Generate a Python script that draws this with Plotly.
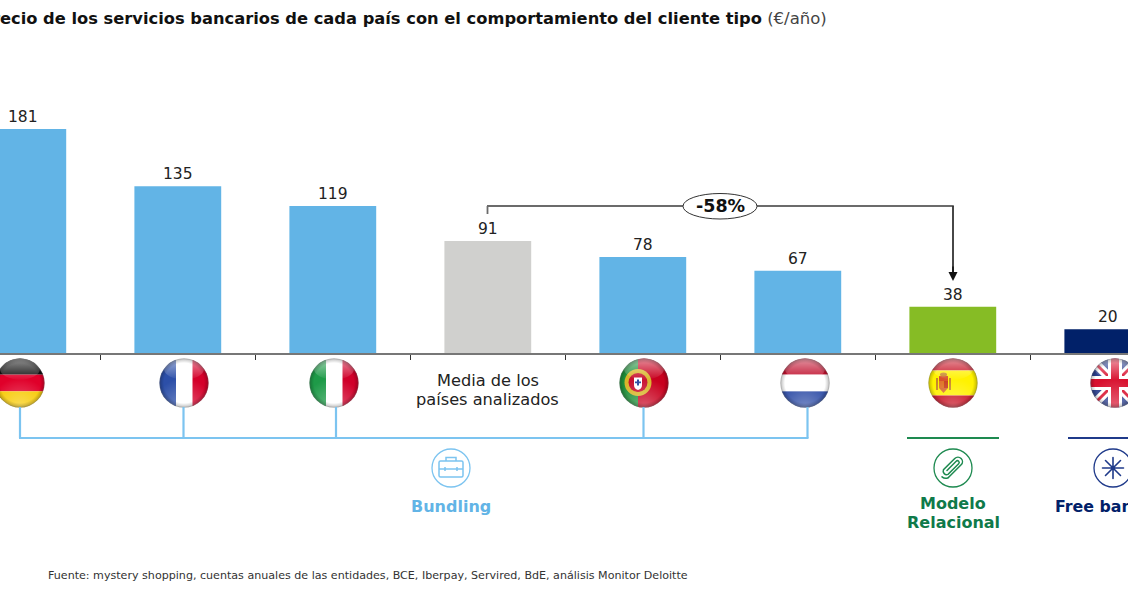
import base64
import numpy as np
import plotly.graph_objects as go

# ---- data ----
categories = ["Alemania", "Francia", "Italia", "Media de los países analizados",
              "Portugal", "Holanda", "España", "Reino Unido"]
values = [181, 135, 119, 91, 78, 67, 38, 20]
groups = ["bundling", "bundling", "bundling", "media", "bundling", "bundling", "relacional", "free"]

W, H = 1128, 591
GROUP_COLORS = {"bundling": "#62B4E6", "media": "#D0D0CE", "relacional": "#86BC25", "free": "#012169"}
BLUE_LINE, GREEN_LINE, NAVY_LINE = "#7CC4F0", "#1E8A50", "#1F3A8A"
FONT = "DejaVu Sans"


def X(px):
    return px / W


def Y(py):
    return 1 - py / H


SPACING = 155.0
X0 = 22.8
BASE = 354.0
PX_PER_UNIT = 1.243
x_range = [-X0 / SPACING, (W - X0) / SPACING]
y_range = [-(H - BASE) / PX_PER_UNIT, BASE / PX_PER_UNIT]
idx = np.arange(len(categories))

fig = go.Figure(go.Bar(
    x=idx, y=values, width=0.56,
    marker=dict(color=[GROUP_COLORS[g] for g in groups], line=dict(width=0)),
    text=[str(v) for v in values], textposition="outside", cliponaxis=False,
    textfont=dict(family=FONT, size=15.5, color="#222222"),
    customdata=categories, hovertemplate="%{customdata}: %{y} €/año<extra></extra>",
))

# ---- svg helpers (flags and icons, no text inside) ----
def uri(svg):
    return "data:image/svg+xml;base64," + base64.b64encode(svg.encode()).decode()


def flag(body):
    return uri(f'''<svg xmlns="http://www.w3.org/2000/svg" width="200" height="200" viewBox="0 0 100 100">
<defs><clipPath id="c"><circle cx="50" cy="50" r="49"/></clipPath>
<linearGradient id="g" x1="0" y1="0" x2="0" y2="1"><stop offset="0" stop-color="#fff" stop-opacity=".55"/><stop offset="1" stop-color="#fff" stop-opacity=".03"/></linearGradient>
<radialGradient id="e" cx=".5" cy=".5" r=".5"><stop offset=".8" stop-color="#000" stop-opacity="0"/><stop offset="1" stop-color="#000" stop-opacity=".28"/></radialGradient>
<radialGradient id="b" cx=".5" cy="1" r=".6"><stop offset="0" stop-color="#fff" stop-opacity=".35"/><stop offset="1" stop-color="#fff" stop-opacity="0"/></radialGradient></defs>
<g clip-path="url(#c)">{body}<rect width="100" height="100" fill="url(#b)"/><ellipse cx="50" cy="22" rx="40" ry="21" fill="url(#g)"/><rect width="100" height="100" fill="url(#e)"/></g>
<circle cx="50" cy="50" r="48.6" fill="none" stroke="#777" stroke-opacity=".5" stroke-width="1.2"/></svg>''')


def hbands(a, b, c, y1=33.3, y2=66.7):
    return (f'<rect width="100" height="{y1}" fill="{a}"/><rect y="{y1}" width="100" height="{y2-y1}" fill="{b}"/>'
            f'<rect y="{y2}" width="100" height="{100-y2}" fill="{c}"/>')


def vbands(a, b, c):
    return (f'<rect width="34" height="100" fill="{a}"/><rect x="34" width="33" height="100" fill="{b}"/>'
            f'<rect x="67" width="33" height="100" fill="{c}"/>')


SPAIN = hbands("#C60B1E", "#FFF200", "#C60B1E", 25, 75) + (
    '<rect x="16" y="40" width="4" height="24" fill="#c8862a"/><rect x="42" y="40" width="4" height="24" fill="#c8862a"/>'
    '<rect x="22" y="36" width="18" height="10" fill="#d8502a"/><rect x="22" y="46" width="9" height="14" fill="#e0722a"/>'
    '<rect x="31" y="46" width="9" height="14" fill="#c8401f"/><path d="M22 60h18l-9 10z" fill="#d86a30"/>'
    '<ellipse cx="31" cy="33" rx="7" ry="4" fill="#c8862a"/>')
PORTUGAL = ('<rect width="38" height="100" fill="#1F8F3A"/><rect x="38" width="62" height="100" fill="#C8001E"/>'
            '<circle cx="38" cy="49" r="27" fill="#D8B52A"/><circle cx="38" cy="49" r="19" fill="#C8102E"/>'
            '<path d="M27 36h22v18q0 11-11 14q-11-3-11-14z" fill="#C8102E"/>'
            '<path d="M30 39h16v15q0 8-8 10q-8-2-8-10z" fill="#fff"/><rect x="36" y="43" width="4" height="12" fill="#2a4aa0"/>'
            '<rect x="32" y="47" width="12" height="3.5" fill="#2a4aa0"/>')
UK = ('<rect width="100" height="100" fill="#2B3F8E"/>'
      '<path d="M0 0L100 100M100 0L0 100" stroke="#fff" stroke-width="18"/>'
      '<path d="M0 0L100 100M100 0L0 100" stroke="#D8102E" stroke-width="6"/>'
      '<rect x="36" width="28" height="100" fill="#fff"/><rect y="36" width="100" height="28" fill="#fff"/>'
      '<rect x="42" width="16" height="100" fill="#D8102E"/><rect y="42" width="100" height="16" fill="#D8102E"/>')

FLAGS = [
    (20, hbands("#111111", "#E0002A", "#F7C900")),
    (184, vbands("#2C4FA8", "#FFFFFF", "#D4002A")),
    (334, vbands("#1E9A48", "#FFFFFF", "#D0002A")),
    (644, PORTUGAL),
    (805, hbands("#C0102E", "#FFFFFF", "#2B4AA5")),
    (953, SPAIN),
    (1115, UK),
]


def icon(color, inner):
    return uri(f'''<svg xmlns="http://www.w3.org/2000/svg" width="160" height="160" viewBox="0 0 80 80">
<circle cx="40" cy="40" r="38" fill="#fff" stroke="{color}" stroke-width="2.6"/>{inner}</svg>''')


BRIEFCASE = ('<g fill="none" stroke="#7CC4F0" stroke-width="3">'
             '<rect x="16" y="26" width="48" height="32" rx="3"/><path d="M30 26v-7h20v7"/>'
             '<path d="M16 42h48"/><path d="M28 38v8M52 38v8"/></g>')
CLIP = ('<g transform="rotate(-45 40 40)" fill="none" stroke="#1E8A50" stroke-width="3" stroke-linecap="round">'
        '<path d="M20 47h36a9 9 0 0 0 0-18H24a7 7 0 0 0 0 13h30a3 3 0 0 0 0-7H28"/><path d="M20 47a11 11 0 0 1-8-10"/></g>')
STAR = ('<g stroke="#1F3A8A" stroke-width="3.2" stroke-linecap="round">'
        '<path d="M40 19v42M19 40h42M25 25l30 30M55 25L25 55"/></g><circle cx="40" cy="40" r="4.5" fill="#1F3A8A"/>')

images = []
for cx, body in FLAGS:
    images.append(dict(source=flag(body), xref="paper", yref="paper", x=X(cx), y=Y(383),
                       sizex=50 / W, sizey=50 / H, xanchor="center", yanchor="middle",
                       sizing="contain", layer="above"))
for cx, color, inner in [(451, BLUE_LINE, BRIEFCASE), (953, GREEN_LINE, CLIP), (1113, NAVY_LINE, STAR)]:
    images.append(dict(source=icon(color, inner), xref="paper", yref="paper", x=X(cx), y=Y(468),
                       sizex=40 / W, sizey=40 / H, xanchor="center", yanchor="middle",
                       sizing="contain", layer="above"))


# ---- lines ----
def line(x0, y0, x1, y1, color, width=1.0):
    return dict(type="line", xref="paper", yref="paper", x0=X(x0), y0=Y(y0), x1=X(x1), y1=Y(y1),
                line=dict(color=color, width=width))


shapes = [line(19, 438, 808.5, 438, BLUE_LINE, 2.2)]
for rx in [20, 183.5, 336, 643.5, 807.5]:
    shapes.append(line(rx, 407, rx, 438, BLUE_LINE, 2.2))
shapes += [line(907, 438, 999, 438, GREEN_LINE, 2.2), line(1068, 438, 1128, 438, NAVY_LINE, 2.2)]
shapes += [line(487.5, 214, 487.5, 206, "#6b6b6b", 1.8), line(487, 206, 953.8, 206, "#6b6b6b", 1.8),
           line(953, 206, 953, 272, "#333333", 1.8)]
shapes.append(dict(type="circle", xref="paper", yref="paper", x0=X(683), x1=X(757), y0=Y(219), y1=Y(193.5),
                   fillcolor="#FFFFFF", line=dict(color="#333333", width=1)))


# ---- texts ----
def txt(s, px, py, size, color="#222222", anchor="center"):
    return dict(text=s, xref="paper", yref="paper", x=X(px), y=Y(py), xanchor=anchor, yanchor="middle",
                showarrow=False, font=dict(family=FONT, size=size, color=color))


TITLE = "Precio de los servicios bancarios de cada país con el comportamiento del cliente tipo"
annotations = [
    txt("<b>" + TITLE + "</b> "
        "<span style='color:#444444;font-size:16.5px'>(€/año)</span>", 829, 19, 16.3, "#111111", "right"),
    txt("<b>-58%</b>", 720, 206, 17.5, "#111111"),
    txt("Media de los", 487.5, 380, 16.2),
    txt("países analizados", 487.5, 399, 16.2),
    txt("<b>Bundling</b>", 451, 506, 16, "#62B4E6"),
    txt("<b>Modelo</b>", 953, 503, 16, "#0F7A4A"),
    txt("<b>Relacional</b>", 953, 522, 16, "#0F7A4A"),
    txt("<b>Free banking</b>", 1113, 506, 15.8, "#012169"),
    txt("Fuente: mystery shopping, cuentas anuales de las entidades, BCE, Iberpay, Servired, BdE, "
        "análisis Monitor Deloitte", 46, 575, 11.1, "#333333", "left"),
    dict(xref="paper", yref="paper", x=X(953), y=Y(281), ax=0, ay=-16, axref="pixel", ayref="pixel",
         text="", showarrow=True, arrowhead=2, arrowsize=1.2, arrowwidth=1.5, arrowcolor="#111111"),
]

fig.update_layout(
    width=W, height=H, margin=dict(l=0, r=0, t=0, b=0), autosize=False,
    paper_bgcolor="#FFFFFF", plot_bgcolor="#FFFFFF", showlegend=False,
    font=dict(family=FONT),
    xaxis=dict(range=x_range, domain=[0, 1], anchor="free", position=(H - BASE) / H,
               tickmode="array", tickvals=(idx[:-1] + 0.5).tolist(), ticks="outside", ticklen=5, tickwidth=1,
               tickcolor="#333333", showticklabels=False, showgrid=False, zeroline=False,
               showline=True, linecolor="#777777", linewidth=2, fixedrange=True),
    yaxis=dict(range=y_range, domain=[0, 1], visible=False, fixedrange=True),
    images=images, shapes=shapes, annotations=annotations,
)

fig.write_html("out.html", config=dict(displayModeBar=False),
               post_script="document.body.style.margin='0';document.body.style.overflow='hidden';")
